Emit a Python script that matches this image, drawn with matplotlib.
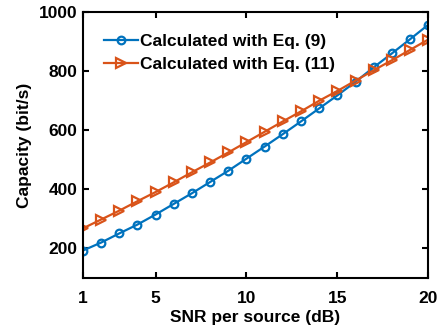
import matplotlib
matplotlib.use('Agg')
from matplotlib import pyplot as plt

plt.rcParams['font.family'] = ['Liberation Sans', 'DejaVu Sans']
plt.rcParams['font.weight'] = 'bold'

snr = list(range(1, 21))
cap_eq9 = [193, 220, 251, 281, 315, 351, 387, 425, 463, 504,
           545, 587, 630, 674, 718, 764, 813, 860, 908, 957]
cap_eq11 = [268, 298, 328, 360, 391, 424, 458, 491, 525, 560,
            595, 630, 664, 700, 733, 768, 803, 837, 872, 907]
xticks = [1, 5, 10, 15, 20]
yticks = [200, 400, 600, 800, 1000]

blue = '#0072BD'
orange = '#D95319'

fig = plt.figure(figsize=(4.41, 3.35), dpi=100)
ax = fig.add_axes([0.188, 0.170, 0.783, 0.794])

ax.plot(snr, cap_eq9, '-o', color=blue, lw=1.6, ms=5.5, mfc='none', mew=1.6,
        label='Calculated with Eq. (9)')
ax.plot(snr, cap_eq11, '->', color=orange, lw=1.6, ms=6.5, mfc='none', mew=1.6,
        label='Calculated with Eq. (11)')

ax.set_xlim(1, 20)
ax.set_ylim(100, 1000)
ax.set_xticks(xticks)
ax.set_yticks(yticks)
ax.tick_params(direction='in', top=True, right=True, labelsize=12.5, width=1.5, length=4)
ax.tick_params(axis='x', pad=9)
ax.tick_params(axis='y', pad=4)
for s in ax.spines.values():
    s.set_linewidth(1.5)
ax.set_xlabel('SNR per source (dB)', fontsize=12.5, fontweight='bold', labelpad=3)
ax.set_ylabel('Capacity (bit/s)', fontsize=12.5, fontweight='bold', labelpad=5)

ax.legend(loc='upper left', bbox_to_anchor=(0.061, 0.918), frameon=False, fontsize=12.5,
          borderpad=0, borderaxespad=0, handlelength=1.95, handletextpad=0.15,
          labelspacing=0.45)

plt.savefig('out.png', dpi=100)
